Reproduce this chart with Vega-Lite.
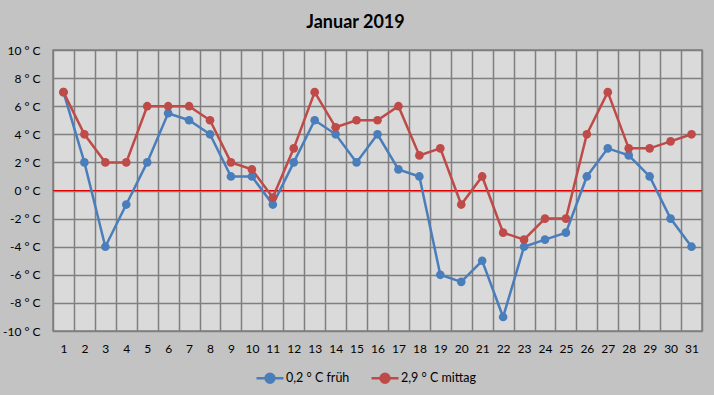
{
  "$schema": "https://vega.github.io/schema/vega-lite/v6.json",
  "width": 649,
  "height": 281,
  "autosize": {"type": "none"},
  "padding": {"left": 53, "top": 50, "right": 12, "bottom": 64},
  "background": "#c3c3c3",
  "title": {"text": "Januar 2019", "font": "Lato", "fontSize": 18, "fontWeight": "bold", "color": "#000000", "anchor": "middle", "dx": -22, "offset": 0, "dy": 2, "baseline": "alphabetic"},
  "config": {"view": {"fill": "#dadada", "stroke": "#7f7f7f", "strokeWidth": 1.5}},
  "layer": [
    {
      "data": {"values": [{}]},
      "mark": {"type": "rule", "color": "#e00000", "strokeWidth": 1.2},
      "encoding": {"y": {"datum": 0, "type": "quantitative",
        "axis": {"title": null, "values": [-10, -8, -6, -4, -2, 0, 2, 4, 6, 8, 10], "labelExpr": "datum.value + ' ° C'", "labelOverlap": false, "grid": true, "gridColor": "#7f7f7f", "gridWidth": 1.5, "gridOpacity": 1, "ticks": false, "domain": false, "labelFont": "Lato", "labelFontSize": 12, "labelColor": "#000000", "labelPadding": 13}}}
    },
    {
      "data": {"values": [
        {"day": 1, "series": "0,2 ° C früh", "temp": 7},
        {"day": 2, "series": "0,2 ° C früh", "temp": 2},
        {"day": 3, "series": "0,2 ° C früh", "temp": -4},
        {"day": 4, "series": "0,2 ° C früh", "temp": -1},
        {"day": 5, "series": "0,2 ° C früh", "temp": 2},
        {"day": 6, "series": "0,2 ° C früh", "temp": 5.5},
        {"day": 7, "series": "0,2 ° C früh", "temp": 5},
        {"day": 8, "series": "0,2 ° C früh", "temp": 4},
        {"day": 9, "series": "0,2 ° C früh", "temp": 1},
        {"day": 10, "series": "0,2 ° C früh", "temp": 1},
        {"day": 11, "series": "0,2 ° C früh", "temp": -1},
        {"day": 12, "series": "0,2 ° C früh", "temp": 2},
        {"day": 13, "series": "0,2 ° C früh", "temp": 5},
        {"day": 14, "series": "0,2 ° C früh", "temp": 4},
        {"day": 15, "series": "0,2 ° C früh", "temp": 2},
        {"day": 16, "series": "0,2 ° C früh", "temp": 4},
        {"day": 17, "series": "0,2 ° C früh", "temp": 1.5},
        {"day": 18, "series": "0,2 ° C früh", "temp": 1},
        {"day": 19, "series": "0,2 ° C früh", "temp": -6},
        {"day": 20, "series": "0,2 ° C früh", "temp": -6.5},
        {"day": 21, "series": "0,2 ° C früh", "temp": -5},
        {"day": 22, "series": "0,2 ° C früh", "temp": -9},
        {"day": 23, "series": "0,2 ° C früh", "temp": -4},
        {"day": 24, "series": "0,2 ° C früh", "temp": -3.5},
        {"day": 25, "series": "0,2 ° C früh", "temp": -3},
        {"day": 26, "series": "0,2 ° C früh", "temp": 1},
        {"day": 27, "series": "0,2 ° C früh", "temp": 3},
        {"day": 28, "series": "0,2 ° C früh", "temp": 2.5},
        {"day": 29, "series": "0,2 ° C früh", "temp": 1},
        {"day": 30, "series": "0,2 ° C früh", "temp": -2},
        {"day": 31, "series": "0,2 ° C früh", "temp": -4},
        {"day": 1, "series": "2,9 ° C mittag", "temp": 7},
        {"day": 2, "series": "2,9 ° C mittag", "temp": 4},
        {"day": 3, "series": "2,9 ° C mittag", "temp": 2},
        {"day": 4, "series": "2,9 ° C mittag", "temp": 2},
        {"day": 5, "series": "2,9 ° C mittag", "temp": 6},
        {"day": 6, "series": "2,9 ° C mittag", "temp": 6},
        {"day": 7, "series": "2,9 ° C mittag", "temp": 6},
        {"day": 8, "series": "2,9 ° C mittag", "temp": 5},
        {"day": 9, "series": "2,9 ° C mittag", "temp": 2},
        {"day": 10, "series": "2,9 ° C mittag", "temp": 1.5},
        {"day": 11, "series": "2,9 ° C mittag", "temp": -0.5},
        {"day": 12, "series": "2,9 ° C mittag", "temp": 3},
        {"day": 13, "series": "2,9 ° C mittag", "temp": 7},
        {"day": 14, "series": "2,9 ° C mittag", "temp": 4.5},
        {"day": 15, "series": "2,9 ° C mittag", "temp": 5},
        {"day": 16, "series": "2,9 ° C mittag", "temp": 5},
        {"day": 17, "series": "2,9 ° C mittag", "temp": 6},
        {"day": 18, "series": "2,9 ° C mittag", "temp": 2.5},
        {"day": 19, "series": "2,9 ° C mittag", "temp": 3},
        {"day": 20, "series": "2,9 ° C mittag", "temp": -1},
        {"day": 21, "series": "2,9 ° C mittag", "temp": 1},
        {"day": 22, "series": "2,9 ° C mittag", "temp": -3},
        {"day": 23, "series": "2,9 ° C mittag", "temp": -3.5},
        {"day": 24, "series": "2,9 ° C mittag", "temp": -2},
        {"day": 25, "series": "2,9 ° C mittag", "temp": -2},
        {"day": 26, "series": "2,9 ° C mittag", "temp": 4},
        {"day": 27, "series": "2,9 ° C mittag", "temp": 7},
        {"day": 28, "series": "2,9 ° C mittag", "temp": 3},
        {"day": 29, "series": "2,9 ° C mittag", "temp": 3},
        {"day": 30, "series": "2,9 ° C mittag", "temp": 3.5},
        {"day": 31, "series": "2,9 ° C mittag", "temp": 4}
      ]},
      "mark": {"type": "line", "strokeWidth": 2.5, "point": {"filled": true, "size": 75, "opacity": 1}},
      "encoding": {
        "x": {
          "field": "day", "type": "ordinal",
          "scale": {"type": "band", "paddingInner": 0, "paddingOuter": 0},
          "bandPosition": 0.5,
          "axis": {"title": null, "tickBand": "extent", "grid": true, "gridColor": "#7f7f7f", "gridWidth": 1.5, "gridOpacity": 1, "ticks": false, "domain": false, "labelAngle": 0, "labelFont": "Lato", "labelFontSize": 12, "labelColor": "#000000", "labelPadding": 12, "labelOverlap": false}
        },
        "y": {
          "field": "temp", "type": "quantitative",
          "scale": {"domain": [-10, 10], "nice": false, "zero": false},
          "axis": {"title": null, "values": [-10, -8, -6, -4, -2, 0, 2, 4, 6, 8, 10], "labelExpr": "datum.value + ' ° C'", "labelOverlap": false, "grid": true, "gridColor": "#7f7f7f", "gridWidth": 1.5, "gridOpacity": 1, "ticks": false, "domain": false, "labelFont": "Lato", "labelFontSize": 12, "labelColor": "#000000", "labelPadding": 13}
        },
        "color": {
          "field": "series", "type": "nominal",
          "scale": {"domain": ["0,2 ° C früh", "2,9 ° C mittag"], "range": ["#4a7ebb", "#be4b48"]},
          "legend": {
            "title": null, "orient": "none", "direction": "horizontal", "legendX": 202, "legendY": 313,
            "symbolType": "M-1,0L1,0M-0.33,0A0.33,0.33 0 1 1 0.33,0A0.33,0.33 0 1 1 -0.33,0Z",
            "symbolSize": 729, "symbolStrokeWidth": 2.5,
            "labelFont": "Lato", "labelFontSize": 12.5, "labelColor": "#000000", "labelOffset": 1, "columnPadding": 16,
            "encode": {"symbols": {"update": {"fill": {"scale": "color", "field": "value"}, "fillOpacity": {"value": 1}}}}
          }
        }
      }
    }
  ]
}
